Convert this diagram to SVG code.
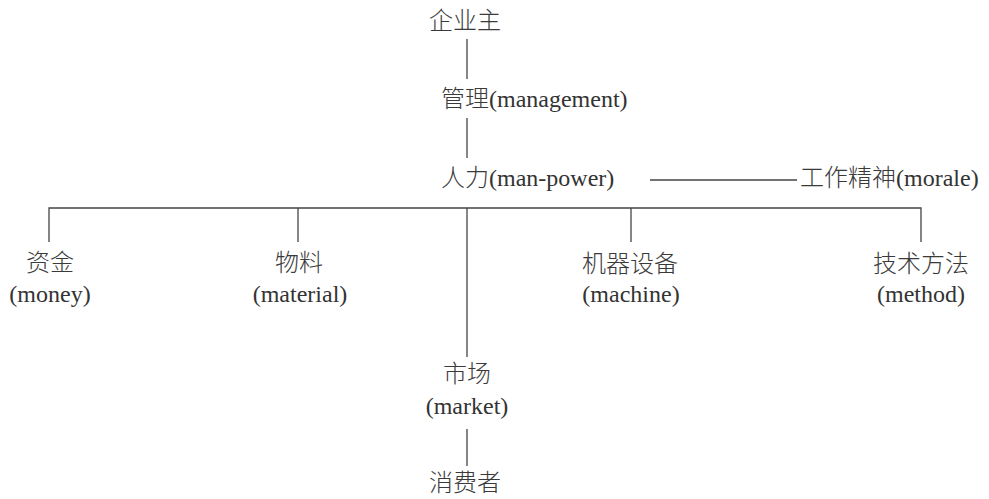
<svg xmlns="http://www.w3.org/2000/svg" width="989" height="499" viewBox="0 0 989 499">
<style>
.zh{font-family:"Noto Sans CJK SC","Liberation Serif",serif;font-size:24px;font-weight:300;fill:#3a3a3a}
.en{font-family:"Liberation Serif","Noto Sans CJK SC",serif;font-size:24px;fill:#333}
.c{text-anchor:middle}
.ln{stroke:#444;stroke-width:1.3;fill:none}
</style>
<rect width="989" height="499" fill="#fff"/>
<g id="connectors">
<line class="ln" x1="467" y1="39" x2="467" y2="79"/>
<line class="ln" x1="467" y1="118" x2="467" y2="158"/>
<line class="ln" x1="650" y1="180" x2="797" y2="180"/>
<polyline class="ln" points="49,242 49,208 921,208 921,242"/>
<line class="ln" x1="298" y1="208" x2="298" y2="242"/>
<line class="ln" x1="631" y1="208" x2="631" y2="242"/>
<line class="ln" x1="467" y1="208" x2="467" y2="357"/>
<line class="ln" x1="467" y1="429" x2="467" y2="466"/>
</g>
<g id="owner"><text class="zh c" x="465" y="29">企业主</text></g>
<g id="management"><text x="441" y="107"><tspan class="zh">管理</tspan><tspan class="en">(management)</tspan></text></g>
<g id="manpower"><text x="441" y="186"><tspan class="zh">人力</tspan><tspan class="en">(man-power)</tspan></text></g>
<g id="morale"><text x="800" y="186"><tspan class="zh">工作精神</tspan><tspan class="en">(morale)</tspan></text></g>
<g id="money"><text class="zh c" x="50" y="271">资金</text><text class="en c" x="50" y="302">(money)</text></g>
<g id="material"><text class="zh c" x="299" y="271">物料</text><text class="en c" x="300" y="302">(material)</text></g>
<g id="machine"><text class="zh c" x="630" y="272">机器设备</text><text class="en c" x="631" y="302">(machine)</text></g>
<g id="method"><text class="zh c" x="921" y="272">技术方法</text><text class="en c" x="921" y="302">(method)</text></g>
<g id="market"><text class="zh c" x="467" y="382">市场</text><text class="en c" x="467" y="414">(market)</text></g>
<g id="consumer"><text class="zh c" x="465" y="491">消费者</text></g>
</svg>
